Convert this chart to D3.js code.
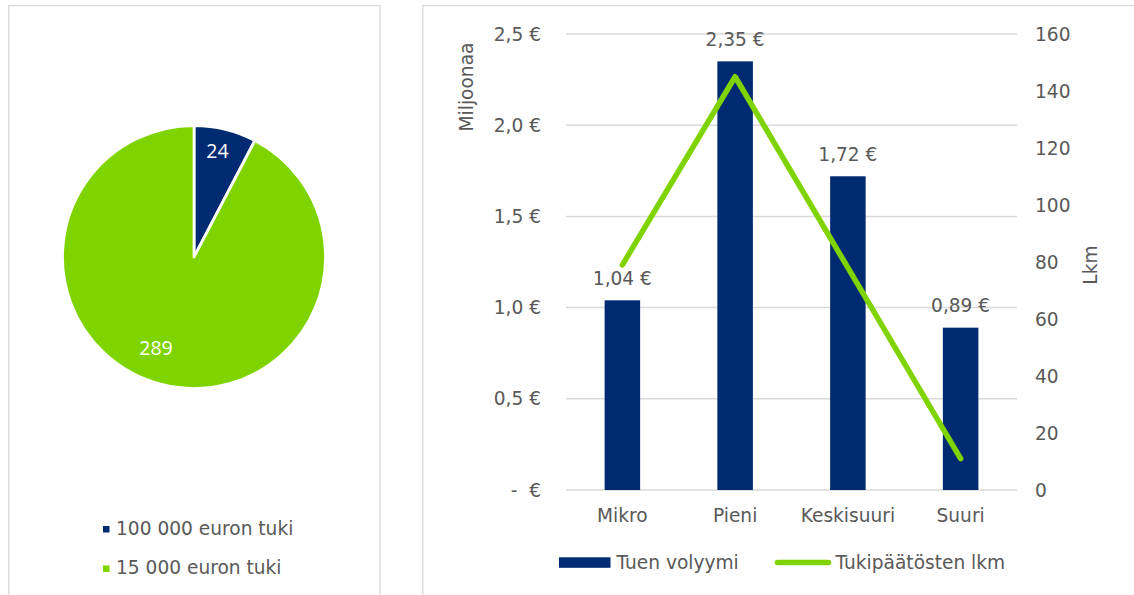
<!DOCTYPE html>
<html><head><meta charset="utf-8">
<script src="https://cdn.jsdelivr.net/npm/d3@7"></script>
<style>
html,body{margin:0;padding:0;background:#fff;}
svg text{font-family:"DejaVu Sans",Verdana,sans-serif;fill:#595959;}
</style></head>
<body>
<svg id="c" width="1134" height="595"></svg>
<script>
// Pie data
const pieLabels = ["100 000 euron tuki", "15 000 euron tuki"];
const pieValues = [24, 289];
// Combo chart data
const categories = ["Mikro", "Pieni", "Keskisuuri", "Suuri"];
const volume = [1.04, 2.35, 1.72, 0.89];        // Miljoonaa €
const decisions = [79, 145, 78, 11];           // Lkm
const leftTicks = [0, 0.5, 1.0, 1.5, 2.0, 2.5];
const rightTicks = [0, 20, 40, 60, 80, 100, 120, 140, 160];
const seriesNames = ["Tuen volyymi", "Tukipäätösten lkm"];

const NAVY = "#002B73", GREEN = "#7FD400", GRID = "#D9D9D9";
const FS = "18.6px";
const svg = d3.select("#c");
const fmtEur = v => v === 0 ? "-  €" : d3.format(".1f")(v).replace(".", ",") + " €";
const fmtEur2 = v => d3.format(".2f")(v).replace(".", ",") + " €";

// Panel borders
svg.append("rect").attr("x", 8.7).attr("y", 5.6).attr("width", 371.3).attr("height", 620)
  .attr("fill", "none").attr("stroke", GRID).attr("stroke-width", 1.3);
svg.append("rect").attr("x", 422.8).attr("y", 5.6).attr("width", 800).attr("height", 620)
  .attr("fill", "none").attr("stroke", GRID).attr("stroke-width", 1.3);

// ---- Pie ----
const colors = [NAVY, GREEN];
const pie = d3.pie().sort(null).value(d => d)(pieValues);
const R = 131.5;
const arc = d3.arc().innerRadius(0).outerRadius(R);
const pg = svg.append("g").attr("transform", "translate(194,257)");
pg.selectAll("path").data(pie).join("path")
  .attr("d", arc).attr("fill", (d, i) => colors[i])
  .attr("stroke", "#fff").attr("stroke-width", 2.8).attr("stroke-linejoin", "round");
pg.selectAll("text.pl").data(pie).join("text")
  .attr("class", "pl")
  .attr("transform", (d, i) => i === 0 ? "translate(23.5,-106)" : "translate(-38,91)")
  .attr("text-anchor", "middle").attr("dy", "0.36em")
  .style("font-family", "'Open Sans',sans-serif").style("font-size", "19.5px").style("fill", "#fff")
  .text(d => d.data);

// Pie legend
const pl = svg.append("g");
pieLabels.forEach((t, i) => {
  const y = 528 + i * 39.5;
  pl.append("rect").attr("x", 103).attr("y", y - 2).attr("width", 6.5).attr("height", 6.5).attr("fill", colors[i]);
  pl.append("text").attr("x", 116).attr("y", y + 6.5).style("font-size", FS).text(t);
});

// ---- Combo chart ----
const x0 = 566, x1 = 1017, yTop = 34, yBot = 490;
const x = d3.scaleBand().domain(categories).range([x0, x1]).paddingInner(0.685).paddingOuter(0.3425);
const yL = d3.scaleLinear().domain([0, 2.5]).range([yBot, yTop]);
const yR = d3.scaleLinear().domain([0, 160]).range([yBot, yTop]);

// gridlines
svg.append("g").selectAll("line").data(leftTicks).join("line")
  .attr("x1", x0).attr("x2", x1).attr("y1", d => yL(d)).attr("y2", d => yL(d))
  .attr("stroke", GRID).attr("stroke-width", 1.5);

// left axis labels
svg.append("g").selectAll("text").data(leftTicks).join("text")
  .attr("x", 541).attr("y", d => yL(d)).attr("dy", "0.36em").attr("text-anchor", "end")
  .style("font-size", FS).style("white-space", "pre").text(fmtEur);

// right axis labels
svg.append("g").selectAll("text").data(rightTicks).join("text")
  .attr("x", 1035).attr("y", d => yR(d)).attr("dy", "0.36em").attr("text-anchor", "start")
  .style("font-size", FS).text(d => d);

// bars
svg.append("g").selectAll("rect").data(volume).join("rect")
  .attr("x", (d, i) => x(categories[i])).attr("width", x.bandwidth())
  .attr("y", d => yL(d)).attr("height", d => yBot - yL(d)).attr("fill", NAVY);

// bar labels
svg.append("g").selectAll("text").data(volume).join("text")
  .attr("x", (d, i) => x(categories[i]) + x.bandwidth() / 2).attr("y", d => yL(d) - 15.5)
  .attr("text-anchor", "middle").style("font-size", FS).text(fmtEur2);

// line
const line = d3.line().x((d, i) => x(categories[i]) + x.bandwidth() / 2).y(d => yR(d));
svg.append("path").datum(decisions).attr("d", line).attr("fill", "none")
  .attr("stroke", GREEN).attr("stroke-width", 5.5).attr("stroke-linecap", "round").attr("stroke-linejoin", "round");

// category labels
svg.append("g").selectAll("text").data(categories).join("text")
  .attr("x", d => x(d) + x.bandwidth() / 2).attr("y", 522).attr("text-anchor", "middle")
  .style("font-size", FS).text(d => d);

// axis titles
svg.append("text").attr("transform", "translate(473,87) rotate(-90)").attr("text-anchor", "middle")
  .style("font-size", FS).text("Miljoonaa");
svg.append("text").attr("transform", "translate(1097,265) rotate(-90)").attr("text-anchor", "middle")
  .style("font-size", FS).text("Lkm");

// legend
const lg = svg.append("g");
lg.append("rect").attr("x", 559).attr("y", 557.3).attr("width", 51.5).attr("height", 10.5).attr("fill", NAVY);
lg.append("text").attr("x", 616.5).attr("y", 569).style("font-size", FS).text(seriesNames[0]);
lg.append("line").attr("x1", 777.5).attr("x2", 828.5).attr("y1", 562.5).attr("y2", 562.5)
  .attr("stroke", GREEN).attr("stroke-width", 5.5).attr("stroke-linecap", "round");
lg.append("text").attr("x", 835.5).attr("y", 569).style("font-size", FS).text(seriesNames[1]);
</script>
</body></html>
